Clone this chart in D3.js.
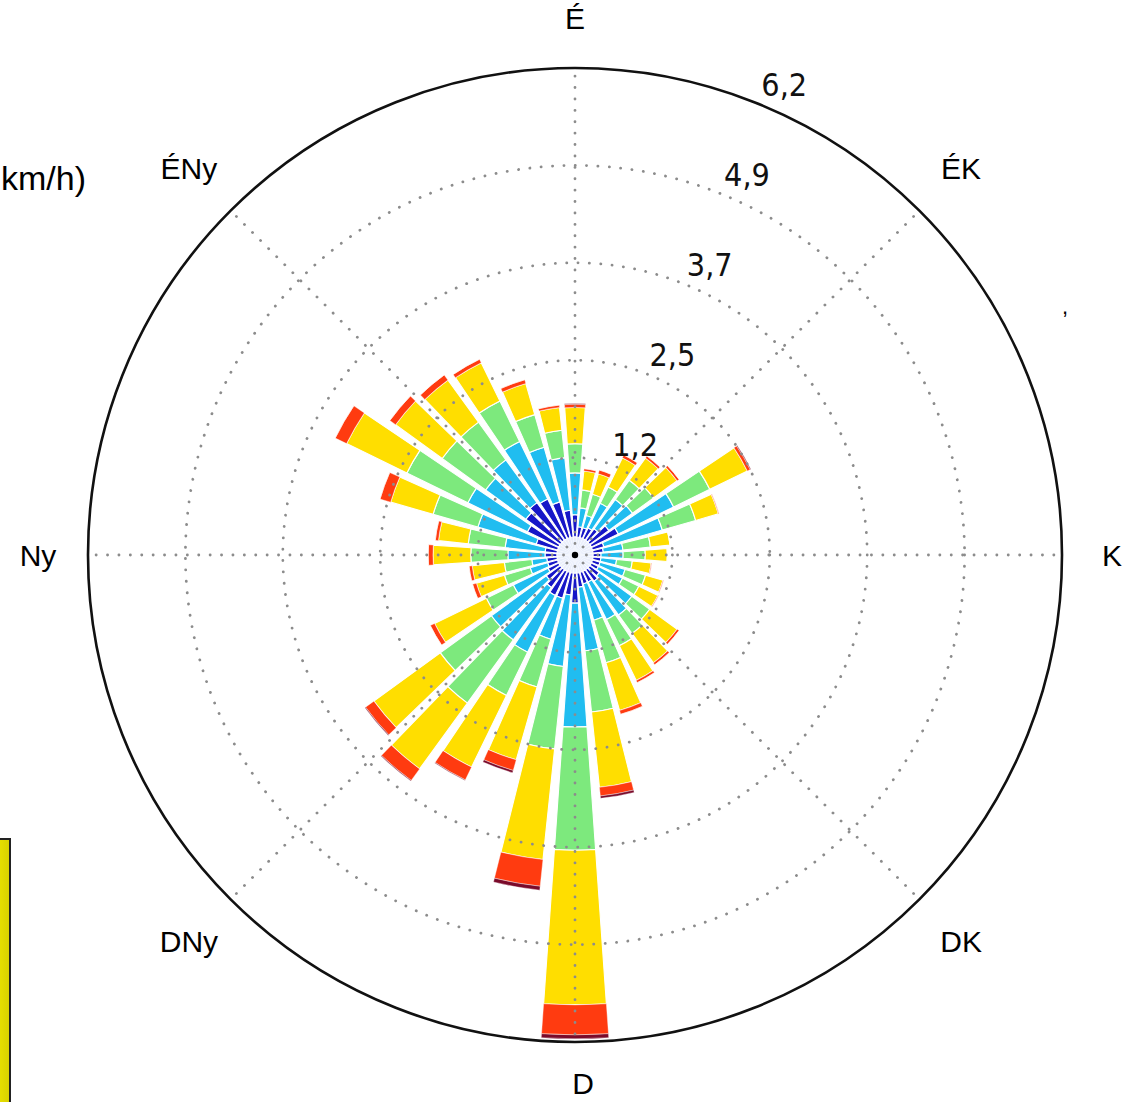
<!DOCTYPE html>
<html>
<head>
<meta charset="utf-8">
<script src="https://cdn.jsdelivr.net/npm/d3@7"></script>
<style>
  html, body { margin: 0; padding: 0; background: #fff; }
  svg { display: block; }
</style>
</head>
<body>
<svg id="chart" width="1139" height="1102"></svg>
<script>
// ---- data ----
const directions = d3.range(0, 360, 10); // degrees, clockwise from north
const speedBins = ["b0", "b1", "b2", "b3", "b4", "b5", "b6"];
const binColors = ["#eaeffc", "#1616c8", "#20bdf0", "#7de97d", "#ffde00", "#ff3b10", "#7a0a2a"];

const bin0 = [0.23,0.23,0.23,0.23,0.23,0.23,0.23,0.23,0.23,0.23,0.23,0.23,0.23,0.23,0.23,0.23,0.23,0.23,0.23,0.23,0.23,0.23,0.23,0.23,0.23,0.23,0.23,0.23,0.23,0.23,0.23,0.23,0.23,0.23,0.23,0.23];
const bin1 = [0.28,0.13,0.13,0.15,0.18,0.30,0.38,0.15,0.13,0.10,0.10,0.10,0.10,0.15,0.18,0.15,0.15,0.18,0.38,0.28,0.34,0.34,0.28,0.22,0.15,0.13,0.13,0.15,0.15,0.28,0.44,0.54,0.59,0.56,0.47,0.34];
const bin2 = [0.53,0.24,0.16,0.35,0.46,0.37,0.78,0.77,0.25,0.28,0.20,0.33,0.34,0.51,0.53,0.53,0.48,0.81,1.57,0.91,0.54,0.80,0.82,0.86,0.49,0.23,0.19,0.47,0.51,0.77,0.84,0.63,0.67,0.81,0.72,0.67];
const bin3 = [0.37,0.23,0.28,0.23,0.30,0.33,0.51,0.44,0.35,0.28,0.20,0.27,0.23,0.28,0.29,0.37,0.56,0.78,1.56,1.05,0.63,0.61,0.99,0.80,0.38,0.34,0.35,0.47,0.47,0.59,0.86,0.68,0.59,0.57,0.43,0.35];
const bin4 = [0.46,0.24,0.27,0.41,0.35,0.37,0.53,0.30,0.25,0.28,0.24,0.23,0.27,0.43,0.46,0.49,0.63,0.96,1.96,1.41,0.96,1.01,1.03,1.04,0.73,0.37,0.41,0.48,0.38,0.56,0.85,0.73,0.66,0.54,0.41,0.29];
const bin5 = [0.04,0.03,0.05,0.04,0.03,0.03,0.04,0.01,0.00,0.00,0.01,0.01,0.01,0.03,0.03,0.03,0.05,0.11,0.38,0.34,0.14,0.18,0.18,0.13,0.06,0.05,0.04,0.06,0.04,0.14,0.16,0.09,0.08,0.05,0.05,0.03];
const bin6 = [0.01,0,0,0,0,0,0.01,0,0,0,0,0,0,0,0,0,0,0.03,0.05,0.05,0.03,0.01,0.01,0.01,0,0,0,0,0,0,0,0,0,0,0,0];
const seriesValues = [bin0, bin1, bin2, bin3, bin4, bin5, bin6];

const radialMax = 6.17;
const tickValues = [1.234, 2.468, 3.702, 4.936, 6.17];
const tickLabels = ["1,2", "2,5", "3,7", "4,9", "6,2"];
const compassLabels = ["É", "ÉK", "K", "DK", "D", "DNy", "Ny", "ÉNy"];
const compassAngles = [0, 45, 90, 135, 180, 225, 270, 315];

// ---- layout ----
const svg = d3.select("#chart");
const cx = 575, cy = 555, R = 487;
const rScale = d3.scaleLinear().domain([0, radialMax]).range([0, R]);
const toRad = d => d * Math.PI / 180;
const halfWidth = 4; // degrees

const g = svg.append("g").attr("transform", `translate(${cx},${cy})`);

// stacked data
const rows = directions.map((dir, i) => {
  const obj = { dir };
  speedBins.forEach((b, j) => obj[b] = seriesValues[j][i]);
  return obj;
});
const stacked = d3.stack().keys(speedBins)(rows);

const arc = d3.arc();
const barsG = g.append("g");
stacked.forEach((layer, j) => {
  barsG.append("g")
    .selectAll("path")
    .data(layer)
    .join("path")
    .attr("d", d => arc({
      innerRadius: rScale(d[0]),
      outerRadius: rScale(d[1]),
      startAngle: toRad(d.data.dir - halfWidth),
      endAngle: toRad(d.data.dir + halfWidth)
    }))
    .attr("fill", binColors[j])
    .attr("stroke", j === 0 ? "none" : "#ffffff")
    .attr("stroke-width", j >= 5 ? 0.4 : 1.1);
});

// grid (drawn over the bars)
const gridG = g.append("g");
gridG.selectAll("circle.ring")
  .data(tickValues.slice(0, -1))
  .join("circle")
  .attr("class", "ring")
  .attr("r", d => rScale(d))
  .attr("fill", "none")
  .attr("stroke", "#8c8c8c")
  .attr("stroke-width", 2.8)
  .attr("stroke-linecap", "round")
  .attr("stroke-dasharray", "0.1,11.3");

gridG.selectAll("line.spoke")
  .data(compassAngles)
  .join("line")
  .attr("class", "spoke")
  .attr("x1", 0).attr("y1", 0)
  .attr("x2", d => rScale(radialMax) * Math.sin(toRad(d)))
  .attr("y2", d => -rScale(radialMax) * Math.cos(toRad(d)))
  .attr("stroke", "#8c8c8c")
  .attr("stroke-width", 2.8)
  .attr("stroke-linecap", "round")
  .attr("stroke-dasharray", "0.1,11.3");

// outer frame
g.append("circle")
  .attr("r", rScale(radialMax))
  .attr("fill", "none")
  .attr("stroke", "#111")
  .attr("stroke-width", 2.6);

// centre dot
g.append("circle").attr("r", 3.2).attr("fill", "#000");

// radial tick labels
g.selectAll("text.rlabel")
  .data(tickValues)
  .join("text")
  .attr("class", "rlabel")
  .attr("x", (d) => rScale(d) * Math.sin(toRad(22.5)))
  .attr("y", (d) => -rScale(d) * Math.cos(toRad(22.5)) - 9)
  .attr("text-anchor", "start")
  .attr("font-family", "'DejaVu Sans Condensed', 'DejaVu Sans', sans-serif")
  .attr("font-size", 32)
  .attr("fill", "#111")
  .text((d, i) => tickLabels[i]);

// compass labels
const labelRadius = d => (d === 180 ? 528 : d % 90 === 0 ? 537 : 546);
g.selectAll("text.clabel")
  .data(compassAngles)
  .join("text")
  .attr("class", "clabel")
  .attr("x", d => labelRadius(d) * Math.sin(toRad(d)) + (d === 180 ? 8 : 0))
  .attr("y", d => -labelRadius(d) * Math.cos(toRad(d)))
  .attr("text-anchor", "middle")
  .attr("dominant-baseline", "central")
  .attr("font-family", "'Liberation Sans', Arial, sans-serif")
  .attr("font-size", 30)
  .attr("fill", "#000")
  .text((d, i) => compassLabels[i]);

// partial elements at the edges of the picture
svg.append("text")
  .attr("x", 1).attr("y", 190)
  .attr("text-anchor", "start")
  .attr("font-family", "'Liberation Sans', Arial, sans-serif")
  .attr("font-size", 34)
  .attr("fill", "#000")
  .text("km/h)");

svg.append("text")
  .attr("x", 1062).attr("y", 314)
  .attr("font-family", "'Liberation Sans', Arial, sans-serif")
  .attr("font-size", 22)
  .attr("fill", "#000")
  .text(",");

const legendDefs = svg.append("defs");
const lg = legendDefs.append("linearGradient").attr("id", "ybox").attr("x1", "0").attr("x2", "1").attr("y1", "0").attr("y2", "0");
lg.append("stop").attr("offset", "0").attr("stop-color", "#c8c000");
lg.append("stop").attr("offset", "0.5").attr("stop-color", "#f4ec00");
lg.append("stop").attr("offset", "1").attr("stop-color", "#d8d000");
svg.append("rect")
  .attr("x", -30).attr("y", 839)
  .attr("width", 40).attr("height", 300)
  .attr("fill", "url(#ybox)")
  .attr("stroke", "#222")
  .attr("stroke-width", 2);
</script>
</body>
</html>
